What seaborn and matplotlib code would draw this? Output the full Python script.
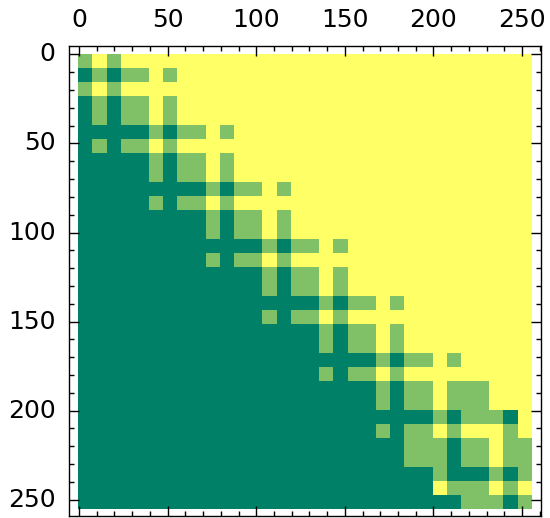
import numpy as np
import seaborn as sns
import matplotlib

matplotlib.use("Agg")
import matplotlib.pyplot as plt
from matplotlib.ticker import FixedLocator

# 32 x 32 blocks, every block is 8 x 8 cells of the 256 x 256 matrix
# 0 = low (dark green), 1 = middle, 2 = high (yellow)
block_rows = [
    "1212 2222 2222 2222 2222 2222 2222 2222",
    "0101 1212 2222 2222 2222 2222 2222 2222",
    "1212 2222 2222 2222 2222 2222 2222 2222",
    "0101 1212 2222 2222 2222 2222 2222 2222",
    "0101 1212 2222 2222 2222 2222 2222 2222",
    "0000 0101 1212 2222 2222 2222 2222 2222",
    "0101 1212 2222 2222 2222 2222 2222 2222",
    "0000 0101 1212 2222 2222 2222 2222 2222",
    "0000 0101 1212 2222 2222 2222 2222 2222",
    "0000 0000 0101 1212 2222 2222 2222 2222",
    "0000 0101 1212 2222 2222 2222 2222 2222",
    "0000 0000 0101 1212 2222 2222 2222 2222",
    "0000 0000 0101 1212 2222 2222 2222 2222",
    "0000 0000 0000 0101 1212 2222 2222 2222",
    "0000 0000 0101 1212 2222 2222 2222 2222",
    "0000 0000 0000 0101 1212 2222 2222 2222",
    "0000 0000 0000 0101 1212 2222 2222 2222",
    "0000 0000 0000 0000 0101 1212 2222 2222",
    "0000 0000 0000 0101 1212 2222 2222 2222",
    "0000 0000 0000 0000 0101 1212 2222 2222",
    "0000 0000 0000 0000 0101 1212 2222 2222",
    "0000 0000 0000 0000 0000 0101 1212 2222",
    "0000 0000 0000 0000 0101 1212 2222 2222",
    "0000 0000 0000 0000 0000 0101 1211 1222",
    "0000 0000 0000 0000 0000 0101 1211 1222",
    "0000 0000 0000 0000 0000 0000 0101 1102",
    "0000 0000 0000 0000 0000 0101 1212 2212",
    "0000 0000 0000 0000 0000 0001 1101 1211",
    "0000 0000 0000 0000 0000 0001 1101 1211",
    "0000 0000 0000 0000 0000 0000 0100 0101",
    "0000 0000 0000 0000 0000 0000 0211 1212",
    "0000 0000 0000 0000 0000 0000 0001 1101",
]
level_values = {"0": 0.0, "1": 0.5, "2": 1.0}
block_size = 8
major_ticks = [0, 50, 100, 150, 200, 250]
minor_ticks = list(range(0, 261, 10))

grid = np.array([[level_values[c] for c in r.replace(" ", "")] for r in block_rows])
data = np.repeat(np.repeat(grid, block_size, axis=0), block_size, axis=1)

fig = plt.figure(figsize=(5.5, 5.18), dpi=100)
ax = fig.add_axes([0.126, 0.003, 0.857, 0.909])

sns.heatmap(data, cmap="summer", vmin=0, vmax=1, cbar=False,
            xticklabels=False, yticklabels=False, ax=ax)

# heatmap cells sit on [i, i+1]; shift by half a cell so ticks hit cell centres
ax.set_xlim(-5, 261)
ax.set_ylim(260, -4.5)
for s in ax.spines.values():
    s.set_visible(True)
    s.set_linewidth(1.0)
    s.set_color("black")

ax.xaxis.set_major_locator(FixedLocator([v + 0.5 for v in major_ticks]))
ax.yaxis.set_major_locator(FixedLocator([v + 0.5 for v in major_ticks]))
ax.xaxis.set_minor_locator(FixedLocator([v + 0.5 for v in minor_ticks]))
ax.yaxis.set_minor_locator(FixedLocator([v + 0.5 for v in minor_ticks]))
ax.set_xticklabels([str(v) for v in major_ticks], rotation=0)
ax.set_yticklabels([str(v) for v in major_ticks], rotation=0, va="center")

ax.tick_params(which="both", direction="in", top=True, bottom=True,
               left=True, right=True, labeltop=True, labelbottom=False,
               labelleft=True, labelright=False, color="black", width=1.0)
ax.tick_params(which="major", length=7, pad=10, labelsize=18)
ax.tick_params(which="minor", length=3.5)

fig.savefig("out.png", dpi=100)
